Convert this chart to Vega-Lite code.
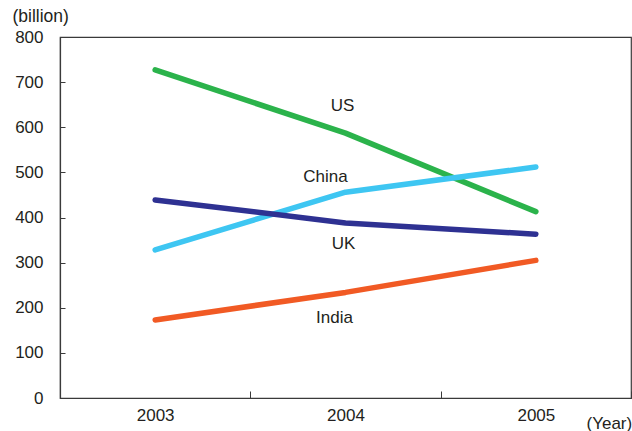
{
  "$schema": "https://vega.github.io/schema/vega-lite/v6.json",
  "width": 571,
  "height": 361,
  "autosize": "none",
  "padding": {"left": 60, "top": 37, "right": 1, "bottom": 33},
  "background": "white",
  "config": {
    "font": "Liberation Sans",
    "view": {"stroke": "#3a3a3a", "strokeWidth": 1.2},
    "axis": {
      "domainColor": "#3a3a3a",
      "tickColor": "#3a3a3a",
      "labelColor": "#231f20",
      "titleColor": "#231f20",
      "labelFont": "Liberation Sans",
      "titleFont": "Liberation Sans",
      "grid": false
    }
  },
  "datasets": {
    "exports": [
      {"country": "US", "year": "2003", "value": 727},
      {"country": "US", "year": "2004", "value": 587},
      {"country": "US", "year": "2005", "value": 413},
      {"country": "China", "year": "2003", "value": 328},
      {"country": "China", "year": "2004", "value": 456},
      {"country": "China", "year": "2005", "value": 512},
      {"country": "UK", "year": "2003", "value": 439},
      {"country": "UK", "year": "2004", "value": 388},
      {"country": "UK", "year": "2005", "value": 363},
      {"country": "India", "year": "2003", "value": 173},
      {"country": "India", "year": "2004", "value": 234},
      {"country": "India", "year": "2005", "value": 305}
    ],
    "labels": [
      {"country": "US", "year": "2004", "value": 647},
      {"country": "China", "year": "2004", "value": 490},
      {"country": "UK", "year": "2004", "value": 341},
      {"country": "India", "year": "2004", "value": 177}
    ]
  },
  "encoding": {
    "x": {
      "field": "year",
      "type": "ordinal",
      "scale": {"type": "band", "domain": ["2003", "2004", "2005"], "paddingInner": 0, "paddingOuter": 0},
      "axis": {
        "title": "(Year)",
        "titleFontSize": 17,
        "titleFontWeight": "normal",
        "titleAnchor": "start",
        "titleAlign": "left",
        "titleBaseline": "middle",
        "titleX": 526,
        "titleY": 25,
        "labelAngle": 0,
        "labelFontSize": 17,
        "labelPadding": 16,
        "tickBand": "extent",
        "tickSize": -7,
        "domainWidth": 1.2
      }
    },
    "y": {
      "field": "value",
      "type": "quantitative",
      "scale": {"domain": [0, 800], "nice": false},
      "axis": {
        "title": "(billion)",
        "titleFontSize": 17.5,
        "titleFontWeight": "normal",
        "titleAngle": 0,
        "titleAlign": "left",
        "titleBaseline": "middle",
        "titleX": -48,
        "titleY": -21,
        "values": [0, 100, 200, 300, 400, 500, 600, 700, 800],
        "labelFontSize": 17,
        "tickSize": -5,
        "labelPadding": 22,
        "domainWidth": 1.2
      }
    }
  },
  "layer": [
    {
      "data": {"name": "exports"},
      "mark": {"type": "line", "strokeWidth": 5.5, "strokeCap": "round", "strokeJoin": "round"},
      "encoding": {
        "detail": {"field": "country"},
        "color": {
          "field": "country",
          "type": "nominal",
          "scale": {
            "domain": ["US", "China", "UK", "India"],
            "range": ["#2bb34b", "#3ec6f2", "#2e3192", "#f15a24"]
          },
          "legend": null
        }
      }
    },
    {
      "data": {"name": "labels"},
      "transform": [{"filter": "datum.country == 'US'"}],
      "mark": {"type": "text", "fontSize": 17, "color": "#231f20", "dx": -3},
      "encoding": {"text": {"field": "country"}}
    },
    {
      "data": {"name": "labels"},
      "transform": [{"filter": "datum.country == 'China'"}],
      "mark": {"type": "text", "fontSize": 17, "color": "#231f20", "dx": -20},
      "encoding": {"text": {"field": "country"}}
    },
    {
      "data": {"name": "labels"},
      "transform": [{"filter": "datum.country == 'UK'"}],
      "mark": {"type": "text", "fontSize": 17, "color": "#231f20", "dx": -2},
      "encoding": {"text": {"field": "country"}}
    },
    {
      "data": {"name": "labels"},
      "transform": [{"filter": "datum.country == 'India'"}],
      "mark": {"type": "text", "fontSize": 17, "color": "#231f20", "dx": -11},
      "encoding": {"text": {"field": "country"}}
    }
  ]
}
